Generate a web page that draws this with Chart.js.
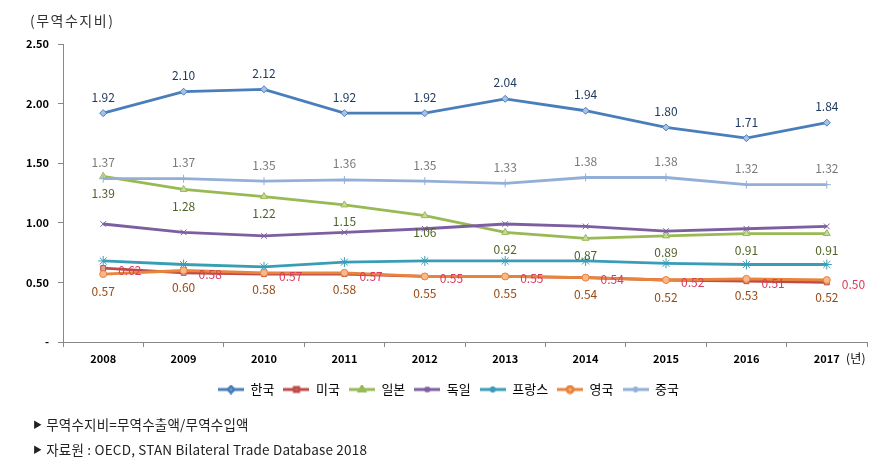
<!DOCTYPE html>
<html>
<head>
<meta charset="utf-8">
<script src="https://cdn.jsdelivr.net/npm/chart.js@4"></script>
<style>
  html, body { margin: 0; padding: 0; background: #fff; }
  #wrap { position: relative; width: 885px; height: 466px; font-family: "Noto Sans CJK KR", sans-serif; }
  canvas { position: absolute; left: 0; top: 0; }
  .note { position: absolute; font-size: 13.5px; color: #222; white-space: nowrap; letter-spacing: 0.2px; }
  .tri { font-size: 9px; margin-right: 4px; vertical-align: 2px; }
</style>
</head>
<body>
<div id="wrap">
  <canvas id="chart" width="885" height="466"></canvas>
  <div class="note" style="left:30px; top:10px; font-size:14px; letter-spacing:1.5px; color:#333;">(무역수지비)</div>
  <div class="note" style="left:846px; top:349px; font-size:12px; color:#000;">(년)</div>
  <div class="note" style="left:33px; top:414px;"><span class="tri">▶</span>무역수지비=무역수출액/무역수입액</div>
  <div class="note" style="left:33px; top:439px;"><span class="tri">▶</span>자료원 : OECD, STAN Bilateral Trade Database 2018</div>
</div>
<script>
const years = ["2008", "2009", "2010", "2011", "2012", "2013", "2014", "2015", "2016", "2017"];
const seriesNames = ["한국", "미국", "일본", "독일", "프랑스", "영국", "중국"];

const korea   = [1.92, 2.10, 2.12, 1.92, 1.92, 2.04, 1.94, 1.80, 1.71, 1.84];
const usa     = [0.62, 0.58, 0.57, 0.57, 0.55, 0.55, 0.54, 0.52, 0.51, 0.50];
const japan   = [1.39, 1.28, 1.22, 1.15, 1.06, 0.92, 0.87, 0.89, 0.91, 0.91];
const germany = [0.99, 0.92, 0.89, 0.92, 0.95, 0.99, 0.97, 0.93, 0.95, 0.97];
const france  = [0.68, 0.65, 0.63, 0.67, 0.68, 0.68, 0.68, 0.66, 0.65, 0.65];
const uk      = [0.57, 0.60, 0.58, 0.58, 0.55, 0.55, 0.54, 0.52, 0.53, 0.52];
const china   = [1.37, 1.37, 1.35, 1.36, 1.35, 1.33, 1.38, 1.38, 1.32, 1.32];

const yTicks = [0, 0.5, 1.0, 1.5, 2.0, 2.5];

const styles = [
  { data: korea,   line: "#4a7ebb", fill: "#a9c1e3", point: "rectRot",  r: 3.5, label: "top",    labelColor: "#1f3a60" },
  { data: usa,     line: "#be4b48", fill: "#e0a09e", point: "rect",     r: 3.5, label: "right",  labelColor: "#d83c5c" },
  { data: japan,   line: "#98b954", fill: "#c6da9e", point: "triangle", r: 4,   label: "bottom", labelColor: "#4f6228" },
  { data: germany, line: "#7d5fa0", fill: "#7d5fa0", point: "crossRot", r: 4,   label: null,     labelColor: null },
  { data: france,  line: "#3a9db6", fill: "#3a9db6", point: "star",     r: 5,   label: null,     labelColor: null },
  { data: uk,      line: "#e8843c", fill: "#f8b887", point: "circle",   r: 3.5, label: "bottom", labelColor: "#9a4a12" },
  { data: china,   line: "#93afd8", fill: "#93afd8", point: "cross",    r: 4,   label: "top",    labelColor: "#7a7a7a" }
];

function legendIcon(s) {
  const c = document.createElement("canvas");
  c.width = 26; c.height = 10;
  const g = c.getContext("2d");
  g.strokeStyle = s.line; g.lineWidth = 3;
  g.beginPath(); g.moveTo(0, 5); g.lineTo(26, 5); g.stroke();
  g.fillStyle = s.fill; g.strokeStyle = s.line;
  if (Chart.helpers && Chart.helpers.drawPoint) {
    Chart.helpers.drawPoint(g, { pointStyle: s.point, radius: 3, borderWidth: 1, rotation: 0 }, 13, 5);
  }
  return c;
}

const datasets = styles.map((s, i) => ({
  label: seriesNames[i],
  data: s.data,
  borderColor: s.line,
  backgroundColor: s.fill,
  borderWidth: 2.8,
  pointStyle: s.point,
  pointRadius: s.r,
  pointBorderColor: s.line,
  pointBackgroundColor: s.fill,
  pointBorderWidth: 1,
  tension: 0,
  order: 10 - i,
  labelPos: s.label,
  labelColor: s.labelColor,
  icon: legendIcon(s)
}));

const pointLabels = {
  id: "pointLabels",
  afterDatasetsDraw(chart) {
    const ctx = chart.ctx;
    chart.data.datasets.forEach((ds, i) => {
      if (!ds.labelPos) return;
      const meta = chart.getDatasetMeta(i);
      ctx.save();
      ctx.font = '12px "Noto Sans CJK KR"';
      ctx.fillStyle = ds.labelColor;
      ctx.textBaseline = "middle";
      meta.data.forEach((pt, j) => {
        const txt = ds.data[j].toFixed(2);
        let x = pt.x, y = pt.y;
        if (ds.labelPos === "top") { ctx.textAlign = "center"; y -= 16; }
        else if (ds.labelPos === "bottom") { ctx.textAlign = "center"; y += 17; }
        else { ctx.textAlign = "left"; x += 15; y += 2; }
        ctx.fillText(txt, x, y);
      });
      ctx.restore();
    });
  }
};

// move the legend a little to the right, as in the original
const legendShift = {
  id: "legendShift",
  afterLayout(chart) {
    if (chart.legend) {
      chart.legend.left += 15;
      chart.legend.right += 15;
    }
  }
};

new Chart(document.getElementById("chart"), {
  type: "line",
  data: { labels: years, datasets: datasets },
  plugins: [pointLabels, legendShift],
  options: {
    responsive: false,
    animation: false,
    layout: { padding: { left: 0, right: 18, top: 44, bottom: 60 } },
    plugins: {
      tooltip: { enabled: false },
      legend: {
        position: "bottom",
        labels: {
          usePointStyle: true,
          pointStyleWidth: 26,
          padding: 9,
          color: "#000",
          font: { family: "Noto Sans CJK KR", size: 13 },
          generateLabels(chart) {
            return chart.data.datasets.map((ds, i) => ({
              text: ds.label,
              pointStyle: ds.icon,
              fillStyle: ds.borderColor,
              strokeStyle: ds.borderColor,
              lineWidth: 0,
              hidden: false,
              datasetIndex: i,
              fontColor: "#000"
            }));
          }
        }
      }
    },
    scales: {
      x: {
        offset: true,
        grid: { display: true, offset: true, drawOnChartArea: false, drawTicks: true, tickLength: 5, color: "#888" },
        border: { color: "#888", width: 1 },
        ticks: { color: "#000", padding: 5, font: { family: "Noto Sans CJK KR", size: 11, weight: "bold" } },
        afterFit(scale) { scale.height = 32; }
      },
      y: {
        min: 0,
        max: 2.5,
        afterBuildTicks(scale) { scale.ticks = yTicks.map(v => ({ value: v })); },
        grid: { display: true, drawOnChartArea: false, drawTicks: true, tickLength: 5, color: "#888" },
        border: { color: "#888", width: 1 },
        ticks: {
          color: "#000",
          padding: 9,
          font: { family: "Noto Sans CJK KR", size: 11, weight: "bold" },
          callback: v => (v === 0 ? "-" : v.toFixed(2))
        },
        afterFit(scale) { scale.width = 63; }
      }
    }
  }
});
</script>
</body>
</html>
